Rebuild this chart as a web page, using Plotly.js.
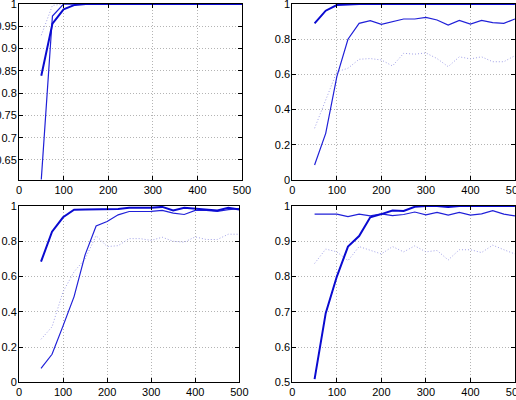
<!DOCTYPE html>
<html>
<head>
<meta charset="utf-8">
<script src="https://cdn.plot.ly/plotly-3.0.1.min.js"></script>
<style>html,body{margin:0;padding:0;background:#fff;}#chart{width:516px;height:400px;}</style>
</head>
<body>
<div id="chart"></div>
<script>
const xs = [50,75,100,125,150,175,200,225,250,275,300,325,350,375,400,425,450,475,500];

// Panel 1 (top-left)
const p1Thick  = [0.839,0.956,0.988,0.998,1,1,1,1,1,1,1,1,1,1,1,1,1,1,1];
const p1Thin   = [0.606,0.973,1,1,1,1,1,1,1,1,1,1,1,1,1,1,1,1,1];
const p1Dotted = [0.93,0.997,1,1,1,1,1,1,1,1,1,1,1,1,1,1,1,1,1];

// Panel 2 (top-right)
const p2Thick  = [0.89,0.962,0.994,0.999,1,1,1,1,1,1,1,1,1,1,1,1,1,1,1];
const p2Thin   = [0.085,0.265,0.587,0.80,0.89,0.905,0.885,0.898,0.915,0.915,0.924,0.909,0.88,0.907,0.886,0.907,0.894,0.89,0.915];
const p2Dotted = [0.294,0.455,0.615,0.635,0.686,0.69,0.682,0.648,0.72,0.715,0.722,0.69,0.644,0.70,0.688,0.70,0.672,0.672,0.707];

// Panel 3 (bottom-left)
const p3Thick  = [0.684,0.854,0.936,0.979,0.98,0.982,0.983,0.983,0.99,0.99,0.99,0.995,0.975,0.99,0.985,0.98,0.975,0.99,0.98];
const p3Thin   = [0.079,0.159,0.32,0.486,0.723,0.887,0.912,0.95,0.969,0.968,0.97,0.975,0.96,0.952,0.975,0.975,0.97,0.98,0.985];
const p3Dotted = [0.244,0.315,0.514,0.627,0.70,0.832,0.77,0.775,0.815,0.815,0.805,0.823,0.80,0.795,0.825,0.81,0.81,0.84,0.84];

// Panel 4 (bottom-right)
const p4Thick  = [0.509,0.696,0.80,0.885,0.915,0.968,0.977,0.987,0.986,0.998,1,1,0.997,1,1,1,1,1,1];
const p4Thin   = [0.977,0.978,0.977,0.97,0.977,0.972,0.978,0.973,0.976,0.983,0.975,0.982,0.974,0.982,0.974,0.978,0.987,0.977,0.972];
const p4Dotted = [0.837,0.878,0.87,0.845,0.885,0.874,0.864,0.885,0.87,0.887,0.87,0.874,0.847,0.876,0.876,0.868,0.889,0.876,0.864];

const xTicks = [0,100,200,300,400,500];
const y1Ticks = [0.65,0.7,0.75,0.8,0.85,0.9,0.95,1];
const y1Labels = ['0.65','0.7','0.75','0.8','0.85','0.9','0.95','1'];
const y2Ticks = [0,0.2,0.4,0.6,0.8,1];
const y2Labels = ['0','0.2','0.4','0.6','0.8','1'];
const y4Ticks = [0.5,0.6,0.7,0.8,0.9,1];
const y4Labels = ['0.5','0.6','0.7','0.8','0.9','1'];

const thickStyle = {color:'#0a0ad0', width:2};
const thinStyle = {color:'#2020d8', width:1.2};
const dotStyle = {color:'#a0a0e6', width:1, dash:'1px,2px'};

function panel(n, thick, thin, dotted){
  const xa = n===1 ? 'x' : 'x'+n;
  const ya = n===1 ? 'y' : 'y'+n;
  return [
    {x:xs, y:dotted, xaxis:xa, yaxis:ya, mode:'lines', line:dotStyle, hoverinfo:'skip', cliponaxis:false},
    {x:xs, y:thin, xaxis:xa, yaxis:ya, mode:'lines', line:thinStyle, hoverinfo:'skip', cliponaxis:false},
    {x:xs, y:thick, xaxis:xa, yaxis:ya, mode:'lines', line:thickStyle, hoverinfo:'skip', cliponaxis:false}
  ];
}

const data = [].concat(
  panel(1,p1Thick,p1Thin,p1Dotted),
  panel(2,p2Thick,p2Thin,p2Dotted),
  panel(3,p3Thick,p3Thin,p3Dotted),
  panel(4,p4Thick,p4Thin,p4Dotted)
);

const font = {family:'Liberation Sans, Arial, sans-serif', size:11, color:'#000'};
const common = {tickmode:'array', showgrid:true, gridcolor:'#b4b4b4', griddash:'1px,2px', gridwidth:1,
    showline:true, linecolor:'#000', linewidth:1, mirror:'ticks', ticks:'inside', ticklen:4,
    tickcolor:'#000', zeroline:false, tickfont:font, automargin:false, fixedrange:true,
    ticklabeloverflow:'allow'};
function xax(domain, anchor){
  return Object.assign({domain:domain, anchor:anchor, range:[0,500.001], tickvals:xTicks,
    ticktext:xTicks.map(String)}, common);
}
function yax(domain, anchor, range, tv, tt){
  return Object.assign({domain:domain, anchor:anchor, range:range, tickvals:tv, ticktext:tt, ticklabelstandoff:-1}, common);
}

const layout = {
  width:516, height:400,
  margin:{l:0,r:0,t:0,b:0},
  paper_bgcolor:'#fff', plot_bgcolor:'#fff',
  showlegend:false,
  font:font,
  xaxis: xax([0.0368,0.469],'y'),
  yaxis: yax([0.55,0.99],'x',[0.605,1.0001],y1Ticks,y1Labels),
  xaxis2: xax([0.5665,0.998],'y2'),
  yaxis2: yax([0.55,0.99],'x2',[0,1.0001],y2Ticks,y2Labels),
  xaxis3: xax([0.0368,0.4638],'y3'),
  yaxis3: yax([0.0443,0.485],'x3',[0,1.0001],y2Ticks,y2Labels),
  xaxis4: xax([0.5665,0.998],'y4'),
  yaxis4: yax([0.0443,0.485],'x4',[0.5,1.0001],y4Ticks,y4Labels)
};

Plotly.newPlot('chart', data, layout, {staticPlot:true, displayModeBar:false});
</script>
</body>
</html>
